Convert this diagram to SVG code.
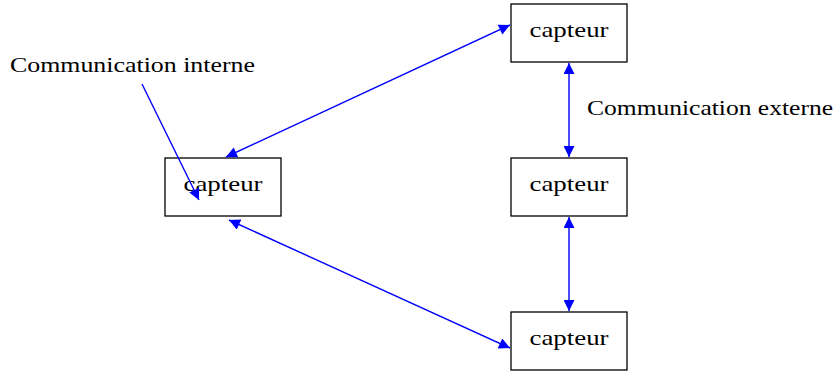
<svg xmlns="http://www.w3.org/2000/svg" width="837" height="372" viewBox="0 0 837 372">
<style>
.box{fill:none;stroke:#000;stroke-width:1.3}
.lbl{font-family:"Liberation Serif",serif;font-size:21px;fill:#000}
.con{stroke:#0000ff;stroke-width:1.4;fill:none}
</style>
<defs>
<marker id="ah" viewBox="0 0 10 10" refX="10" refY="5" markerWidth="12" markerHeight="11" markerUnits="userSpaceOnUse" orient="auto-start-reverse">
<path d="M0,0 L10,5 L0,10 Z" fill="#0000ff"/>
</marker>
</defs>
<rect width="837" height="372" fill="#fff"/>
<g id="n1"><rect class="box" x="511" y="4" width="116" height="58"/><text class="lbl" x="569" y="37" text-anchor="middle" textLength="79" lengthAdjust="spacingAndGlyphs">capteur</text></g>
<g id="n2"><rect class="box" x="165" y="158" width="116" height="58"/><text class="lbl" x="223" y="191" text-anchor="middle" textLength="79" lengthAdjust="spacingAndGlyphs">capteur</text></g>
<g id="n3"><rect class="box" x="511" y="158" width="116" height="58"/><text class="lbl" x="569" y="191" text-anchor="middle" textLength="79" lengthAdjust="spacingAndGlyphs">capteur</text></g>
<g id="n4"><rect class="box" x="511" y="312" width="116" height="58"/><text class="lbl" x="569" y="345" text-anchor="middle" textLength="79" lengthAdjust="spacingAndGlyphs">capteur</text></g>
<g id="label-interne"><text class="lbl" x="10" y="72" textLength="245" lengthAdjust="spacingAndGlyphs">Communication interne</text></g>
<g id="label-externe"><text class="lbl" x="587" y="115" textLength="246" lengthAdjust="spacingAndGlyphs">Communication externe</text></g>
<g id="connectors">
<line class="con" x1="226" y1="157" x2="510" y2="25" marker-start="url(#ah)" marker-end="url(#ah)"/>
<line class="con" x1="569" y1="63" x2="569" y2="157" marker-start="url(#ah)" marker-end="url(#ah)"/>
<line class="con" x1="569" y1="217" x2="569" y2="311" marker-start="url(#ah)" marker-end="url(#ah)"/>
<line class="con" x1="229" y1="220" x2="510" y2="348" marker-start="url(#ah)" marker-end="url(#ah)"/>
<line class="con" x1="142" y1="84" x2="199" y2="200" marker-end="url(#ah)"/>
</g>
</svg>
